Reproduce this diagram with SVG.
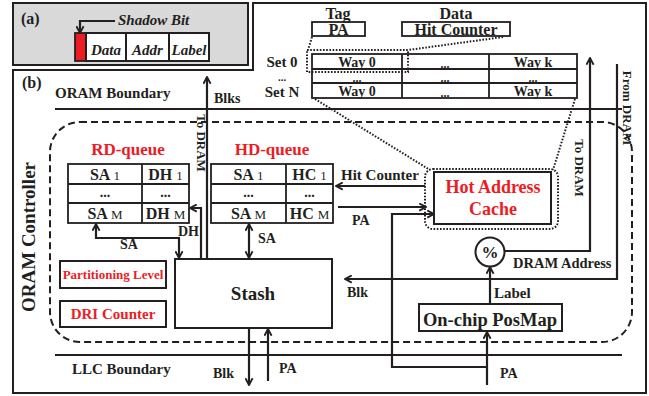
<svg xmlns="http://www.w3.org/2000/svg" width="649" height="396" viewBox="0 0 649 396">
<defs>
<marker id="ah" viewBox="0 0 10 10" refX="8.5" refY="5" markerWidth="9" markerHeight="9" markerUnits="userSpaceOnUse" orient="auto-start-reverse">
<path d="M1,1 L8.5,5 L1,9" fill="none" stroke="#231f20" stroke-width="2"/>
</marker>
</defs>
<style>
text{font-family:"Liberation Serif","Times New Roman",serif;font-weight:bold;fill:#231f20}
.box{fill:#fff;stroke:#231f20;stroke-width:2}
.cell{fill:none;stroke:#231f20;stroke-width:1.8}
.ln{fill:none;stroke:#231f20;stroke-width:2.2}
.arr{fill:none;stroke:#231f20;stroke-width:2.2;marker-end:url(#ah)}
.arr2{fill:none;stroke:#231f20;stroke-width:2.2;marker-end:url(#ah);marker-start:url(#ah)}
.dot{fill:none;stroke:#231f20;stroke-width:2;stroke-dasharray:1.6,1.6}
.dash{fill:none;stroke:#231f20;stroke-width:2;stroke-dasharray:7,4}
.red{fill:#ed1c24}
.c{text-anchor:middle}
.it{font-style:italic}
.sub{font-size:13px;font-weight:normal}
</style>
<rect width="649" height="396" fill="#fff"/>

<!-- Panel (a) -->
<g id="panel-a">
<rect x="13" y="3" width="235" height="62" fill="#d9d9d9" stroke="#231f20" stroke-width="2"/>
<text x="21" y="24" font-size="16">(a)</text>
<rect x="75" y="33" width="11" height="28" fill="#ed1c24" stroke="#231f20" stroke-width="1.8"/>
<rect class="box" x="86" y="33" width="40" height="28"/>
<rect class="box" x="126" y="33" width="43" height="28"/>
<rect class="box" x="169" y="33" width="40" height="28"/>
<text class="c it" x="106" y="55" font-size="15">Data</text>
<text class="c it" x="147.5" y="55" font-size="15">Addr</text>
<text class="c it" x="189" y="55" font-size="15">Label</text>
<text class="it" x="118" y="25" font-size="15">Shadow Bit</text>
<path class="arr" d="M115,21 H80 V33"/>
</g>

<!-- Panel (b) frame -->
<path d="M13,70 H253 V3 H646 V393 H13 Z" fill="none" stroke="#231f20" stroke-width="2"/>
<text x="22" y="88" font-size="16">(b)</text>

<!-- Boundaries -->
<g id="oram-boundary">
<line class="ln" x1="55" y1="109" x2="622" y2="109"/>
<text x="55" y="98" font-size="15">ORAM Boundary</text>
</g>
<g id="llc-boundary">
<line class="ln" x1="55" y1="355" x2="622" y2="355"/>
<text x="72" y="374" font-size="15">LLC Boundary</text>
</g>

<!-- ORAM Controller -->
<g id="oram-controller">
<rect class="dash" x="50" y="122" width="582" height="220" rx="30" ry="30"/>
<text class="c" transform="translate(35,237) rotate(-90)" font-size="19">ORAM Controller</text>
</g>

<!-- Cache set table -->
<g id="cache-table">
<text class="c" x="338" y="19" font-size="16">Tag</text>
<text class="c" x="456" y="19" font-size="16">Data</text>
<rect class="cell" x="312" y="22" width="53" height="14"/>
<rect class="cell" x="402" y="22" width="108" height="14"/>
<text class="c" x="338.5" y="35" font-size="16">PA</text>
<text class="c" x="456" y="35" font-size="16">Hit Counter</text>
<rect class="cell" x="312" y="54" width="265" height="44"/>
<line class="cell" x1="312" y1="69" x2="577" y2="69"/>
<line class="cell" x1="312" y1="83" x2="577" y2="83"/>
<line class="cell" x1="402" y1="54" x2="402" y2="98"/>
<line class="cell" x1="489" y1="54" x2="489" y2="98"/>
<text class="c" x="357" y="67" font-size="14">Way 0</text>
<text class="c" x="445" y="68" font-size="12">...</text>
<text class="c" x="533" y="67" font-size="14">Way k</text>
<text class="c" x="357" y="82" font-size="12">...</text>
<text class="c" x="445" y="82" font-size="12">...</text>
<text class="c" x="533" y="82" font-size="12">...</text>
<text class="c" x="357" y="96" font-size="14">Way 0</text>
<text class="c" x="445" y="97" font-size="12">...</text>
<text class="c" x="533" y="96" font-size="14">Way k</text>
<text class="c" x="282" y="66.5" font-size="15">Set 0</text>
<text class="c" x="282" y="80.5" font-size="11">...</text>
<text class="c" x="282" y="97" font-size="15">Set N</text>
<rect class="dot" x="307" y="50" width="101" height="22"/>
<path class="dot" d="M312,37 L308,50 M503,37 L408,50 M315,99 L430,170 M575,99 L553,170"/>
</g>

<!-- Hot Address Cache -->
<g id="hot-address-cache">
<rect class="dot" x="425" y="169" width="133" height="60" rx="8"/>
<rect class="box" x="434" y="172" width="117" height="52"/>
<text class="c red" x="493" y="193" font-size="18">Hot Address</text>
<text class="c red" x="493" y="215" font-size="18">Cache</text>
</g>

<!-- RD-queue -->
<g id="rd-queue">
<text class="c red" x="128" y="155" font-size="17">RD-queue</text>
<rect class="cell" x="68" y="164" width="121" height="59"/>
<line class="cell" x1="68" y1="184" x2="189" y2="184"/>
<line class="cell" x1="68" y1="203" x2="189" y2="203"/>
<line class="cell" x1="142" y1="164" x2="142" y2="223"/>
<text class="c" x="105" y="180" font-size="16">SA <tspan class="sub">1</tspan></text>
<text class="c" x="165.5" y="180" font-size="16">DH <tspan class="sub">1</tspan></text>
<text class="c" x="105" y="197" font-size="14">...</text>
<text class="c" x="165.5" y="197" font-size="14">...</text>
<text class="c" x="105" y="219" font-size="16">SA <tspan class="sub">M</tspan></text>
<text class="c" x="165.5" y="219" font-size="16">DH <tspan class="sub">M</tspan></text>
</g>

<!-- HD-queue -->
<g id="hd-queue">
<text class="c red" x="272" y="155" font-size="17">HD-queue</text>
<rect class="cell" x="211" y="164" width="122" height="59"/>
<line class="cell" x1="211" y1="184" x2="333" y2="184"/>
<line class="cell" x1="211" y1="203" x2="333" y2="203"/>
<line class="cell" x1="286" y1="164" x2="286" y2="223"/>
<text class="c" x="248.5" y="180" font-size="16">SA <tspan class="sub">1</tspan></text>
<text class="c" x="309.5" y="180" font-size="16">HC <tspan class="sub">1</tspan></text>
<text class="c" x="248.5" y="197" font-size="14">...</text>
<text class="c" x="309.5" y="197" font-size="14">...</text>
<text class="c" x="248.5" y="219" font-size="16">SA <tspan class="sub">M</tspan></text>
<text class="c" x="309.5" y="219" font-size="16">HC <tspan class="sub">M</tspan></text>
</g>

<!-- Partitioning Level -->
<g id="partitioning-level">
<rect class="box" x="60" y="261" width="106" height="27"/>
<text class="c red" x="113" y="279" font-size="13">Partitioning Level</text>
</g>

<!-- DRI Counter -->
<g id="dri-counter">
<rect class="box" x="60" y="301" width="106" height="26"/>
<text class="c red" x="113" y="319" font-size="15">DRI Counter</text>
</g>

<!-- Stash -->
<g id="stash">
<rect class="box" x="175" y="259" width="157" height="69"/>
<text class="c" x="253" y="300" font-size="19">Stash</text>
</g>

<!-- On-chip PosMap -->
<g id="posmap">
<rect class="box" x="419" y="304" width="143" height="27"/>
<text class="c" x="490" y="326" font-size="18.5">On-chip PosMap</text>
</g>

<!-- Modulo -->
<g id="modulo">
<circle cx="490" cy="252" r="14.5" fill="#fff" stroke="#231f20" stroke-width="2"/>
<text class="c" x="490" y="258" font-size="17">%</text>
</g>

<!-- Connectors -->
<g id="connectors">
<path class="arr" d="M207,259 V77"/>
<path class="arr" d="M201,259 V208 H190"/>
<path class="arr2" d="M96,224 V238 H179 V258"/>
<path class="arr2" d="M249,224 V258"/>
<path class="arr" d="M425,186 H336"/>
<path class="arr" d="M338,207 H426"/>
<path class="arr" d="M487,367 H392 V214 H434"/>
<path class="arr" d="M487,385 V332"/>
<path class="arr" d="M490,304 V267"/>
<path class="arr" d="M505,251 H590 V58"/>
<path class="arr" d="M617,64 V279 H345"/>
<path class="arr" d="M249,328 V385"/>
<path class="arr" d="M268,381 V329"/>
</g>

<!-- Connector labels -->
<g id="labels">
<text x="214" y="103" font-size="14">Blks</text>
<text transform="translate(197,143) rotate(90)" class="c" font-size="13">To DRAM</text>
<text transform="translate(575,168) rotate(90)" class="c" font-size="13">To DRAM</text>
<text transform="translate(623,108) rotate(90)" class="c" font-size="13">From DRAM</text>
<text x="120" y="249" font-size="14">SA</text>
<text x="178" y="236" font-size="14">DH</text>
<text x="258" y="243" font-size="14">SA</text>
<text x="341" y="180" font-size="15">Hit Counter</text>
<text x="352" y="225" font-size="14">PA</text>
<text x="513" y="268" font-size="14.5">DRAM Address</text>
<text x="494" y="298" font-size="15">Label</text>
<text x="347" y="297" font-size="14">Blk</text>
<text x="213" y="378" font-size="14">Blk</text>
<text x="279" y="373" font-size="14">PA</text>
<text x="500" y="378" font-size="14">PA</text>
</g>
</svg>
